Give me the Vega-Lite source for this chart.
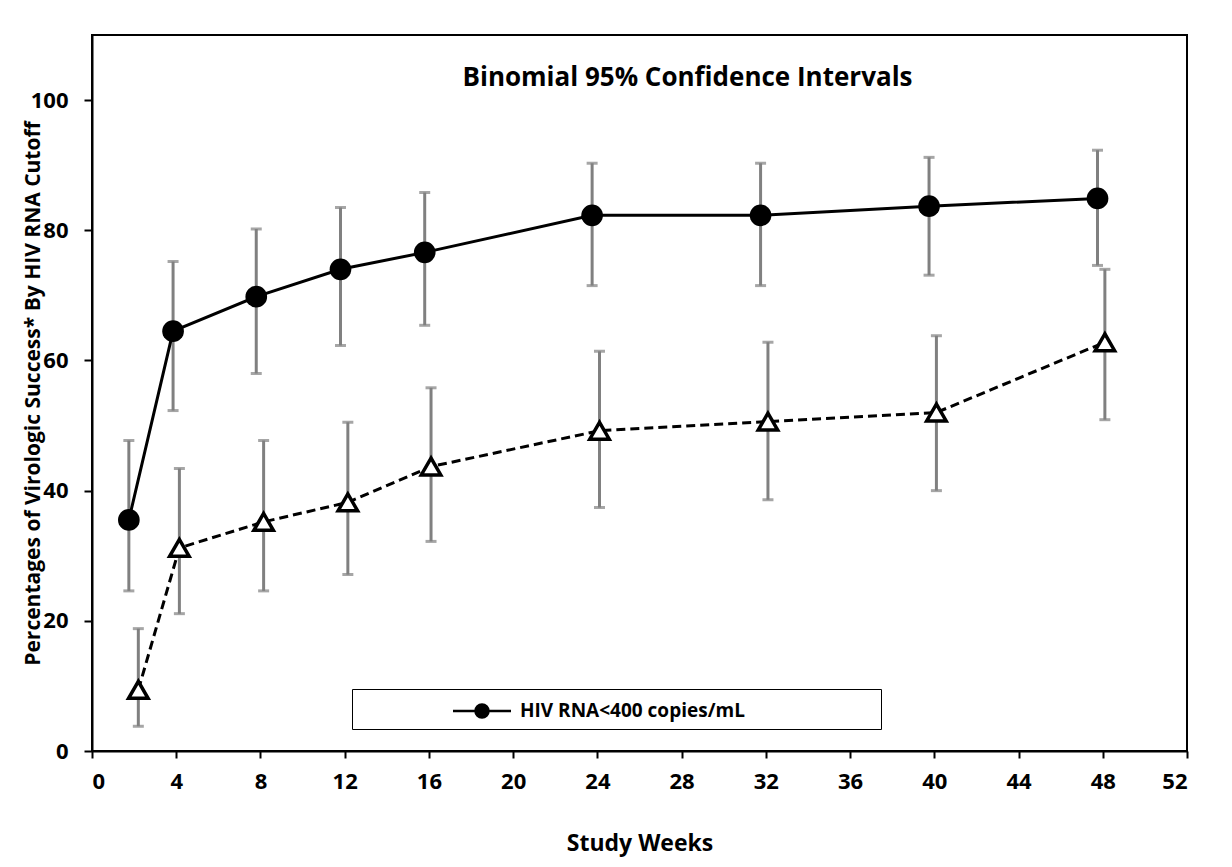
{
  "$schema": "https://vega.github.io/schema/vega-lite/v6.json",
  "width": 1095,
  "height": 716,
  "autosize": {"type": "none"},
  "padding": {"left": 92, "top": 35, "right": 45, "bottom": 116},
  "background": "white",
  "title": {
    "text": "Binomial 95% Confidence Intervals",
    "orient": "top",
    "anchor": "middle",
    "offset": -56,
    "dx": 48,
    "font": "Open Sans",
    "fontSize": 26,
    "fontWeight": "bold",
    "color": "black"
  },
  "config": {
    "view": {"stroke": "black", "strokeWidth": 2},
    "font": "Open Sans",
    "axis": {
      "labelFont": "Open Sans",
      "labelFontSize": 22,
      "labelFontWeight": "bold",
      "labelColor": "black",
      "titleFont": "Open Sans",
      "titleFontWeight": "bold",
      "titleColor": "black",
      "domainColor": "black",
      "domainWidth": 2,
      "tickColor": "black",
      "tickWidth": 2,
      "grid": false
    }
  },
  "data": {
    "values": [
      {"series": "HIV RNA<400 copies/mL", "week": 1.75, "pct": 35.5, "lo": 24.6, "hi": 47.7},
      {"series": "HIV RNA<400 copies/mL", "week": 3.85, "pct": 64.5, "lo": 52.3, "hi": 75.2},
      {"series": "HIV RNA<400 copies/mL", "week": 7.8, "pct": 69.8, "lo": 58.0, "hi": 80.2},
      {"series": "HIV RNA<400 copies/mL", "week": 11.8, "pct": 74.0, "lo": 62.3, "hi": 83.5},
      {"series": "HIV RNA<400 copies/mL", "week": 15.8, "pct": 76.6, "lo": 65.4, "hi": 85.8},
      {"series": "HIV RNA<400 copies/mL", "week": 23.75, "pct": 82.3, "lo": 71.5, "hi": 90.3},
      {"series": "HIV RNA<400 copies/mL", "week": 31.75, "pct": 82.3, "lo": 71.5, "hi": 90.3},
      {"series": "HIV RNA<400 copies/mL", "week": 39.75, "pct": 83.7, "lo": 73.1, "hi": 91.2},
      {"series": "HIV RNA<400 copies/mL", "week": 47.75, "pct": 84.9, "lo": 74.6, "hi": 92.3},
      {"series": "HIV RNA<50 copies/mL", "week": 2.2, "pct": 9.4, "lo": 3.8, "hi": 18.8},
      {"series": "HIV RNA<50 copies/mL", "week": 4.15, "pct": 31.2, "lo": 21.1, "hi": 43.4},
      {"series": "HIV RNA<50 copies/mL", "week": 8.15, "pct": 35.2, "lo": 24.6, "hi": 47.7},
      {"series": "HIV RNA<50 copies/mL", "week": 12.15, "pct": 38.2, "lo": 27.1, "hi": 50.5},
      {"series": "HIV RNA<50 copies/mL", "week": 16.1, "pct": 43.7, "lo": 32.2, "hi": 55.8},
      {"series": "HIV RNA<50 copies/mL", "week": 24.1, "pct": 49.2, "lo": 37.4, "hi": 61.4},
      {"series": "HIV RNA<50 copies/mL", "week": 32.1, "pct": 50.6, "lo": 38.6, "hi": 62.8},
      {"series": "HIV RNA<50 copies/mL", "week": 40.1, "pct": 52.0, "lo": 40.0, "hi": 63.8},
      {"series": "HIV RNA<50 copies/mL", "week": 48.1, "pct": 62.8, "lo": 50.9, "hi": 74.0}
    ]
  },
  "encoding": {
    "x": {
      "field": "week",
      "type": "quantitative",
      "scale": {"domain": [0, 52], "nice": false, "zero": false},
      "axis": {
        "values": [0, 4, 8, 12, 16, 20, 24, 28, 32, 36, 40, 44, 48, 52],
        "tickSize": 7,
        "labelPadding": 13,
        "title": "Study Weeks",
        "titleFontSize": 23,
        "titlePadding": 40
      }
    }
  },
  "layer": [
    {
      "mark": {"type": "rule", "color": "#808080", "strokeWidth": 3},
      "encoding": {
        "y": {
          "field": "lo",
          "type": "quantitative",
          "scale": {"domain": [0, 110], "nice": false},
          "axis": {
            "values": [0, 20, 40, 60, 80, 100],
            "tickSize": 8,
            "labelPadding": 16,
            "title": "Percentages of Virologic Success* By HIV RNA Cutoff",
            "titleFontSize": 21,
            "titlePadding": -13
          }
        },
        "y2": {"field": "hi"}
      }
    },
    {
      "mark": {"type": "tick", "orient": "horizontal", "color": "#808080", "size": 11, "thickness": 3},
      "encoding": {"y": {"field": "lo", "type": "quantitative"}}
    },
    {
      "mark": {"type": "tick", "orient": "horizontal", "color": "#808080", "size": 11, "thickness": 3},
      "encoding": {"y": {"field": "hi", "type": "quantitative"}}
    },
    {
      "transform": [{"filter": "datum.series === 'HIV RNA<400 copies/mL'"}],
      "mark": {"type": "line", "color": "black", "strokeWidth": 3},
      "encoding": {"y": {"field": "pct", "type": "quantitative"}}
    },
    {
      "transform": [{"filter": "datum.series === 'HIV RNA<50 copies/mL'"}],
      "mark": {"type": "line", "color": "black", "strokeWidth": 3, "strokeDash": [9, 5]},
      "encoding": {"y": {"field": "pct", "type": "quantitative"}}
    },
    {
      "transform": [{"filter": "datum.series === 'HIV RNA<400 copies/mL'"}],
      "mark": {"type": "point", "shape": "circle", "filled": true, "size": 470, "opacity": 1},
      "encoding": {
        "y": {"field": "pct", "type": "quantitative"},
        "fill": {
          "field": "series",
          "type": "nominal",
          "scale": {"range": ["black"]},
          "legend": {
            "title": "\u00a0",
            "titleOrient": "right",
            "titlePadding": 130,
            "titleFontSize": 17,
            "orient": "none",
            "legendX": 260,
            "legendY": 654,
            "padding": 6,
            "strokeColor": "black",
            "symbolType": "M-2,0H2M0.45,0A0.45,0.45,0,1,1,-0.45,0A0.45,0.45,0,1,1,0.45,0Z",
            "symbolSize": 841,
            "symbolStrokeColor": "black",
            "symbolStrokeWidth": 2.5,
            "symbolFillColor": "black",
            "symbolOpacity": 1,
            "symbolOffset": 108,
            "labelOffset": 22,
            "labelLimit": 0,
            "labelFont": "Open Sans",
            "labelFontSize": 19,
            "labelFontWeight": "bold",
            "labelColor": "black"
          }
        }
      }
    },
    {
      "transform": [{"filter": "datum.series === 'HIV RNA<50 copies/mL'"}],
      "mark": {"type": "point", "shape": "triangle-up", "filled": true, "fill": "white", "stroke": "black", "strokeWidth": 3.5, "size": 380, "opacity": 1},
      "encoding": {"y": {"field": "pct", "type": "quantitative"}}
    }
  ]
}
